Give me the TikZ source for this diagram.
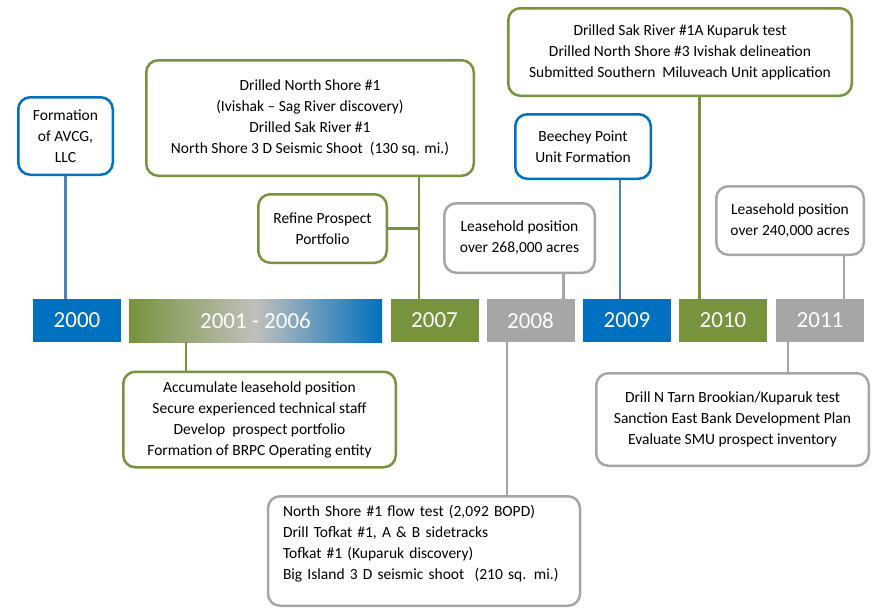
\documentclass[tikz,border=0pt]{standalone}
\usepackage{fontspec}
\setmainfont{Carlito}
\definecolor{tlblue}{HTML}{0070C0}
\definecolor{tlgreen}{HTML}{77933C}
\definecolor{tlgray}{HTML}{A6A6A6}
\definecolor{lnblue}{HTML}{4F81BD}
\definecolor{midgray}{HTML}{C0C0BC}
\begin{document}
\begin{tikzpicture}[x=1pt,y=-1pt,
  box/.style={draw=#1, line width=2.5pt, rounded corners=12pt, fill=white, align=center,
    inner sep=3pt, font=\fontsize{15.5}{21}\selectfont, text=black},
  yearbar/.style={fill=#1, minimum height=43pt, inner sep=0pt, text=white,
    font=\fontsize{23}{26}\selectfont},
  conn/.style={draw=#1, line width=2.5pt}
]
\useasboundingbox (0,0) rectangle (873,611);

% year bars
\node[yearbar=tlblue, minimum width=88pt] (y2000) at (77,320.5) {2000};
\node[yearbar=tlgreen, minimum width=253pt, left color=tlgreen, right color=tlblue, middle color=midgray] (y0106) at (255.5,320.5) {2001 - 2006};
\node[yearbar=tlgreen, minimum width=88pt] (y2007) at (434.5,320.5) {2007};
\node[yearbar=tlgray, minimum width=88pt] (y2008) at (530.5,320.5) {2008};
\node[yearbar=tlblue, minimum width=88pt] (y2009) at (627,320.5) {2009};
\node[yearbar=tlgreen, minimum width=88pt] (y2010) at (723,320.5) {2010};
\node[yearbar=tlgray, minimum width=88pt] (y2011) at (820,320.5) {2011};

% boxes
\node[box=tlblue, minimum width=94.5pt, minimum height=77.5pt] (b1) at (65.5,136)
  {Formation\\of AVCG,\\LLC};
\node[box=tlgreen, minimum width=327.5pt, minimum height=115.5pt] (b2) at (310,118)
  {Drilled North Shore \#1\\(Ivishak -- Sag River discovery)\\Drilled Sak River \#1\\North Shore 3 D Seismic Shoot\ \ (130 sq. mi.)};
\node[box=tlgreen, minimum width=128.5pt, minimum height=68.5pt] (b3) at (322.5,228.5)
  {Refine Prospect\\Portfolio};
\node[box=tlgray, minimum width=150.5pt, minimum height=69.5pt] (b4) at (519.5,238)
  {Leasehold position\\over 268,000 acres};
\node[box=tlblue, minimum width=135.5pt, minimum height=64.5pt] (b5) at (583,146.5)
  {Beechey Point\\Unit Formation};
\node[box=tlgreen, minimum width=343.5pt, minimum height=87.5pt] (b6) at (680,52)
  {Drilled Sak River \#1A Kuparuk test\\Drilled North Shore \#3 Ivishak delineation\\Submitted Southern\ \ Miluveach Unit application};
\node[box=tlgray, minimum width=147.5pt, minimum height=68.5pt] (b7) at (790,220.5)
  {Leasehold position\\over 240,000 acres};
\node[box=tlgreen, minimum width=272.5pt, minimum height=95.5pt] (b8) at (259.5,419.5)
  {Accumulate leasehold position\\Secure experienced technical staff\\Develop\ \ prospect portfolio\\Formation of BRPC Operating entity};
\node[box=tlgray, minimum width=311.5pt, minimum height=109.5pt, align=left, text width=282pt, inner xsep=15pt] (b9) at (424,551)
  {North Shore \#1 flow test (2,092 BOPD)\\Drill Tofkat \#1, A \& B sidetracks\\Tofkat \#1 (Kuparuk discovery)\\Big Island 3 D seismic shoot\ \ (210 sq. mi.)\\[-4pt]~};
\node[box=tlgray, minimum width=272.5pt, minimum height=92.5pt] (b10) at (732.5,419.5)
  {Drill N Tarn Brookian/Kuparuk test\\Sanction East Bank Development Plan\\Evaluate SMU prospect inventory};

% connectors
\coordinate (c07) at ([xshift=-15.5pt]y2007.north);
\draw[conn=lnblue] (b1.south) -- (b1.south |- y2000.north);
\draw[conn=tlgreen] (c07) -- (c07 |- b2.south);
\draw[conn=tlgreen] (b3.east) -- (b3.east -| c07);
\draw[conn=tlgray] ([xshift=33pt]y2008.north) -- ([xshift=33pt]y2008.north |- b4.south);
\draw[conn=lnblue] ([xshift=-7pt]y2009.north) -- ([xshift=-7pt]y2009.north |- b5.south);
\draw[conn=tlgreen] ([xshift=-23.5pt]y2010.north) -- ([xshift=-23.5pt]y2010.north |- b6.south);
\draw[conn=tlgray] ([xshift=24pt]y2011.north) -- ([xshift=24pt]y2011.north |- b7.south);
\draw[conn=tlgreen] ([xshift=-69.5pt]y0106.south) -- ([xshift=-69.5pt]y0106.south |- b8.north);
\draw[conn=tlgray] ([xshift=-23.5pt]y2008.south) -- ([xshift=-23.5pt]y2008.south |- b9.north);
\draw[conn=tlgray] ([xshift=-32pt]y2011.south) -- ([xshift=-32pt]y2011.south |- b10.north);
\end{tikzpicture}
\end{document}
